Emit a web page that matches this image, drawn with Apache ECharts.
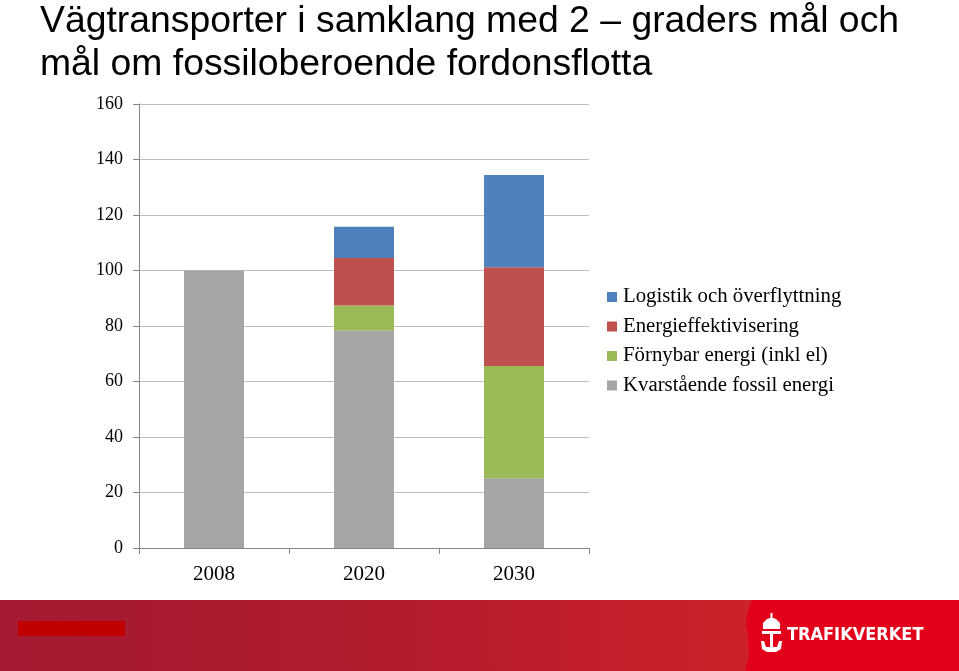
<!DOCTYPE html>
<html>
<head>
<meta charset="utf-8">
<script src="https://cdn.jsdelivr.net/npm/echarts@6/dist/echarts.min.js"></script>
<style>html,body{margin:0;padding:0;background:#fff}#c{width:959px;height:671px}</style>
</head>
<body>
<div id="c"></div>
<script>
var categories = ['2008', '2020', '2030'];
var fossil = [100, 78.4, 25.1];
var fornybar = [0, 9.0, 40.5];
var effektiv = [0, 17.1, 35.6];
var logistik = [0, 11.3, 33.2];
var seriesNames = ['Logistik och överflyttning', 'Energieffektivisering', 'Förnybar energi (inkl el)', 'Kvarstående fossil energi'];
var yTicks = [0, 20, 40, 60, 80, 100, 120, 140, 160];

var chart = echarts.init(document.getElementById('c'), null, {renderer: 'canvas'});
var serif = '"Liberation Serif", "Times New Roman", serif';
function bar(name, data, color) {
  return {name: name, type: 'bar', stack: 'a', data: data, barWidth: '40%',
    itemStyle: {color: color}, emphasis: {disabled: true}};
}
chart.setOption({
  animation: false,
  legend: {
    orient: 'vertical', left: 602, top: 281,
    itemWidth: 10, itemHeight: 10, itemGap: 7.5, icon: 'rect',
    data: seriesNames,
    textStyle: {fontFamily: serif, fontSize: 20.8, lineHeight: 22, color: '#000', padding: [0,0,0,1]}
  },
  grid: {left: 139, right: 370, top: 104, bottom: 123},
  xAxis: {
    type: 'category', data: categories,
    axisLine: {lineStyle: {color: '#868686'}},
    axisTick: {show: true, length: 6, lineStyle: {color: '#868686'}},
    axisLabel: {fontFamily: serif, fontSize: 21, color: '#000', margin: 16}
  },
  yAxis: {
    type: 'value', min: 0, max: 160, interval: 20,
    axisLine: {show: true, lineStyle: {color: '#868686'}},
    axisTick: {show: true, length: 6, lineStyle: {color: '#868686'}},
    splitLine: {lineStyle: {color: '#bfbfbf'}},
    axisLabel: {fontFamily: serif, fontSize: 18, color: '#000', margin: 16}
  },
  series: [
    bar(seriesNames[3], fossil, '#a5a5a5'),
    bar(seriesNames[2], fornybar, '#9bbb59'),
    bar(seriesNames[1], effektiv, '#c0504d'),
    bar(seriesNames[0], logistik, '#4f81bd')
  ],
  graphic: [
    {type: 'text', x: 40, y: 1, scaleX: 1.037, silent: true,
      style: {text: 'Vägtransporter i samklang med 2 – graders mål och\nmål om fossiloberoende fordonsflotta',
        fill: '#000', font: '36px "Liberation Sans", Arial, sans-serif', lineHeight: 43}},
    {type: 'rect', shape: {x: 0, y: 600, width: 959, height: 71}, silent: true,
      style: {fill: new echarts.graphic.LinearGradient(0, 0, 1, 0, [
        {offset: 0, color: '#a41a32'}, {offset: 0.4, color: '#b21b2e'}, {offset: 0.78, color: '#cc2228'}, {offset: 1, color: '#d42424'}])}},
    {type: 'polygon', silent: true,
      shape: {points: [[752, 600], [959, 600], [959, 671], [745, 671], [749, 655], [748, 638], [746, 622], [749, 608]]},
      style: {fill: '#e2001a'}},
    {type: 'rect', shape: {x: 18, y: 621, width: 107, height: 15}, silent: true, style: {fill: '#c00000'}},
    {type: 'text', x: 787, y: 626, silent: true,
      style: {text: 'TRAFIKVERKET', fill: '#fff', font: 'bold 18px "DejaVu Sans Condensed", "Liberation Sans Narrow", sans-serif'}},
    {type: 'polygon', silent: true,
      shape: {points: [[762, 631], [781, 631], [781, 634], [773, 634], [773, 647], [777, 647], [779, 641], [782, 641], [781, 649], [776, 652], [767, 652], [762, 649], [761, 641], [764, 641], [766, 647], [770, 647], [770, 634], [762, 634]]},
      style: {fill: '#fff'}},
    {type: 'polygon', silent: true,
      shape: {points: [[763, 629], [763, 623], [767, 619], [771.5, 617.5], [776, 619], [780, 623], [780, 629]]},
      style: {fill: '#fff'}},
    {type: 'rect', silent: true, shape: {x: 770.5, y: 613, width: 2, height: 5}, style: {fill: '#fff'}}
  ]
});
</script>
</body>
</html>
